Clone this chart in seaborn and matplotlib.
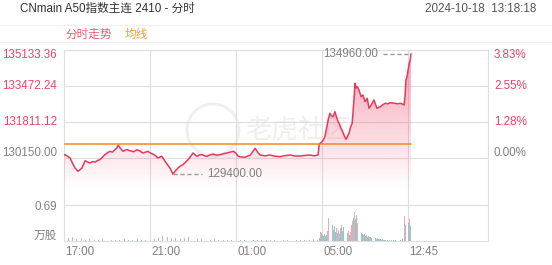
import numpy as np
import matplotlib
matplotlib.use("Agg")
import matplotlib.pyplot as plt
import matplotlib.transforms as mtrans
from matplotlib.patches import Polygon, Ellipse
from matplotlib.lines import Line2D
import seaborn as sns

# ---------------- data ----------------
title = "CNmain A50指数主连 2410 - 分时"
timestamp = "2024-10-18  13:18:18"
legend_labels = ["分时走势", "均线"]

prev_close = 130150.00
price_ticks = [135133.36, 133472.24, 131811.12, 130150.00]
pct_labels = ["3.83%", "2.55%", "1.28%", "0.00%"]
price_floor = 128488.88
vol_tick = 0.69
vol_top = 1.016
vol_unit = "万股"
time_labels = ["17:00", "21:00", "01:00", "05:00", "12:45"]
time_slots = [0, 240, 480, 720, 960]
total_slots = 1183

price_slot = [0, 3, 10, 17, 24, 31, 39, 45, 50, 59, 66, 73, 80, 87, 93, 100, 107, 114,
              121, 128, 135, 142, 147, 151, 158, 165, 175, 184, 194, 204, 212, 220, 227,
              234, 241, 248, 255, 262, 268, 273, 282, 290, 297, 304, 311, 318, 325, 332,
              339, 346, 353, 360, 366, 371, 378, 385, 392, 399, 408, 416, 425, 435, 445,
              455, 463, 472, 479, 486, 495, 505, 512, 519, 526, 533, 540, 547, 561, 575,
              589, 603, 617, 631, 645, 659, 673, 687, 698, 709, 712, 716, 720, 724, 728,
              733, 737, 742, 746, 751, 756, 760, 765, 769, 773, 777, 781, 787, 791, 795,
              800, 804, 809, 812, 815, 818, 823, 829, 834, 840, 846, 851, 857, 865, 873,
              882, 889, 896, 903, 910, 917, 924, 931, 938, 944, 949, 952, 954, 957, 960,
              963, 966, 968]
price_val = [130288, 130302, 130230, 130150, 129900, 129689, 129536, 129620, 129689, 130025,
             129960, 129919, 129990, 129965, 130030, 130072, 130180, 130302, 130390, 130459,
             130420, 130533, 130600, 130736, 130580, 130459, 130540, 130487, 130440, 130533,
             130470, 130381, 130420, 130459, 130380, 130335, 130260, 130150, 130200, 130228,
             129998, 129813, 129650, 129400, 129560, 129689, 129780, 129841, 129960, 130072,
             130220, 130381, 130300, 130228, 130290, 130302, 130250, 130228, 130300, 130335,
             130280, 130302, 130350, 130381, 130420, 130459, 130390, 130228, 130200, 130182,
             130240, 130275, 130420, 130598, 130430, 130288, 130250, 130288, 130230, 130210,
             130260, 130288, 130240, 130242, 130270, 130288, 130250, 130288, 130796, 130850,
             130902, 131000, 131133, 131560, 131903, 132213, 132100, 132056, 132286, 132050,
             131825, 131700, 131520, 131380, 131211, 131012, 131150, 131290, 131600, 131751,
             132826, 133597, 133380, 133440, 133288, 132979, 133057, 132748, 132905, 132443,
             132596, 132826, 132443, 132517, 132600, 132674, 132650, 132702, 132690, 132674,
             132650, 132674, 132640, 132596, 133100, 133749, 133900, 134210, 134500, 134672,
             134960]
avg_price = 130775.0
hi_slot, hi_price, hi_label = 968, 134960.00, "134960.00"
lo_slot, lo_price, lo_label = 304, 129400.00, "129400.00"

vol_night_slot = list(range(0, 709, 12))
vol_night = [0.07, 0.05, 0.08, 0.04, 0.03, 0.02, 0.03, 0.02, 0.02, 0.03, 0.02, 0.02, 0.01, 0.02,
             0.03, 0.02, 0.02, 0.03, 0.02, 0.02, 0.05, 0.04, 0.06, 0.09, 0.07, 0.05, 0.06, 0.04,
             0.05, 0.08, 0.05, 0.03, 0.04, 0.03, 0.02, 0.03, 0.02, 0.02, 0.01, 0.02, 0.01, 0.02,
             0.01, 0.01, 0.02, 0.01, 0.01, 0.01, 0.02, 0.01, 0.01, 0.01, 0.01, 0.02, 0.01, 0.01,
             0.01, 0.02, 0.03, 0.02]
vol_night_dir = "dudduddudu" "uddudduddu" "duddudduud" "dudduddudu" "udduddudud" "duddudduud"
vol_day_slot = list(range(712, 899, 3))
vol_day = [0.05, 0.18, 0.15, 0.12, 0.10, 0.14, 0.09, 0.12, 0.20, 0.45, 1.00, 0.37, 0.30, 0.22,
           0.28, 0.18, 0.24, 0.16, 0.22, 0.14, 0.25, 0.30, 0.20, 0.26, 0.18, 0.22, 0.15, 0.20,
           0.12, 0.18, 0.30, 0.38, 0.45, 0.55, 0.42, 0.50, 0.35, 0.28, 0.20, 0.16, 0.14, 0.12,
           0.13, 0.10, 0.11, 0.08, 0.09, 0.07, 0.08, 0.06, 0.07, 0.05, 0.05, 0.04, 0.05, 0.03,
           0.04, 0.03, 0.02, 0.03, 0.02, 0.02, 0.02]
vol_day_dir = "dudduddduu" "udduddudud" "dudduddudu" "uududdudud" "dudduddudd" "udduddudud" "dud"
vol_tail_slot = [902, 908, 914, 920, 926, 932, 938, 944, 951, 954, 957, 960, 963, 966, 968]
vol_tail = [0.02, 0.01, 0.02, 0.01, 0.01, 0.02, 0.01, 0.03, 0.48, 0.30, 0.22, 0.35, 0.42, 0.28, 0.45]
vol_tail_dir = "ddddddddudududu"

# ---------------- style ----------------
W, H = 552, 265
RED = "#e8385c"
PINK_TXT = "#e8466a"
GRAY_TXT = "#808080"
ORANGE = "#f5891f"
GRID = "#dedede"

sns.set_theme(style="white")
plt.rcParams["font.family"] = ["Liberation Sans", "Noto Sans CJK SC", "DejaVu Sans"]
FS = 8.4

fig = plt.figure(figsize=(W / 100, H / 100), dpi=100)
fig.patch.set_facecolor("white")

L, R = 64, 488


def fx(px):
    return px / W


def fy(py):
    return 1 - py / H


def axes_px(top, bottom, z=0):
    a = fig.add_axes([fx(L), fy(bottom), (R - L) / W, (bottom - top) / H], zorder=z)
    a.set_facecolor("none")
    return a


# header
fig.text(fx(20), fy(8.5), title, fontsize=FS, color="#333333", va="center", ha="left")
fig.text(fx(536), fy(8.5), timestamp, fontsize=FS, color="#555555", va="center", ha="right")
fig.text(fx(65), fy(34.5), legend_labels[0], fontsize=FS, color="#ee5a70", va="center", ha="left")
fig.text(fx(125), fy(34.5), legend_labels[1], fontsize=FS, color="#f0a040", va="center", ha="left")
for yy in (25, 42):
    fig.add_artist(Line2D([0, 1], [fy(yy), fy(yy)], color="#f0f0f0", lw=0.8))

# watermark
fig.add_artist(Ellipse((fx(213), fy(130)), 52 / W, 52 / H, fill=False, ec="#efefef", lw=2, zorder=-1))
fig.text(fx(245), fy(130), "老虎社区", fontsize=19, color="#eeeeee", va="center", ha="left",
         style="italic", zorder=-1)

# frame axes
bg = axes_px(50, 241)
bg.set_xlim(0, total_slots)
bg.set_ylim(0, 1)
bg.set_xticks([])
bg.set_yticks([])
for s in bg.spines.values():
    s.set_color(GRID)
    s.set_linewidth(0.8)
for s in time_slots[1:]:
    bg.axvline(s, color=GRID, lw=0.8, zorder=0)

# price axes
pa = axes_px(50, 194, z=1)
pa.axis("off")
for p in price_ticks[1:]:
    pa.axhline(p, color=GRID, lw=0.8, zorder=0)

ys_px = np.linspace(50, 194, 256)
grad = np.zeros((256, 1, 4))
grad[..., :3] = matplotlib.colors.to_rgb("#f05a76")
grad[:, 0, 3] = np.clip(0.58 * (190 - ys_px) / 140, 0, 1)
im = pa.imshow(grad, extent=[0, total_slots, price_floor, price_ticks[0]], aspect="auto",
               origin="upper", zorder=1)
poly_pts = [(price_slot[0], price_floor)] + list(zip(price_slot, price_val)) + [(price_slot[-1], price_floor)]
poly = Polygon(poly_pts, closed=True, transform=pa.transData, facecolor="none", edgecolor="none")
pa.add_patch(poly)
im.set_clip_path(poly)

sns.lineplot(x=price_slot, y=price_val, ax=pa, color=RED, lw=1.1, zorder=4, legend=False)
sns.lineplot(x=[price_slot[0], price_slot[-1]], y=[avg_price, avg_price], ax=pa, color=ORANGE,
             lw=1.1, zorder=5, legend=False)
pa.set_xlim(0, total_slots)
pa.set_ylim(price_floor, price_ticks[0])

px2slot = total_slots / (R - L)
pa.plot([hi_slot - 28 * px2slot, hi_slot], [hi_price, hi_price], ls=(0, (3, 2)), color="#999999", lw=1, zorder=6)
pa.text(hi_slot - 33 * px2slot, hi_price, hi_label, fontsize=FS, color=GRAY_TXT, ha="right", va="center")
pa.plot([lo_slot, lo_slot + 29 * px2slot], [lo_price, lo_price], ls=(0, (3, 2)), color="#999999", lw=1, zorder=6)
pa.text(lo_slot + 34 * px2slot, lo_price, lo_label, fontsize=FS, color=GRAY_TXT, ha="left", va="center")

# axis labels for price
offsets = [5, 0, 0, -5]
for p, pct, off in zip(price_ticks, pct_labels, offsets):
    col = GRAY_TXT if p == prev_close else PINK_TXT
    tr = mtrans.blended_transform_factory(fig.transFigure, pa.transData) + \
        mtrans.ScaledTranslation(0, -off / 100, fig.dpi_scale_trans)
    fig.text(fx(57), p, f"{p:.2f}", transform=tr, fontsize=FS, color=col, ha="right", va="center")
    fig.text(fx(494), p, pct, transform=tr, fontsize=FS, color=col, ha="left", va="center")

# volume axes
va = axes_px(188, 241, z=2)
va.axis("off")
va.axhline(vol_tick, color=GRID, lw=0.8, zorder=0)
v_slot = vol_night_slot + vol_day_slot + vol_tail_slot
v_val = vol_night + vol_day + vol_tail
v_dir = vol_night_dir + vol_day_dir + vol_tail_dir
cols = ["#f39cb0" if d == "u" else "#7fc8c8" for d in v_dir]
va.bar(v_slot, v_val, width=2.4, color=cols, lw=0, alpha=0.9)
va.set_xlim(0, total_slots)
va.set_ylim(0, vol_top)
trv = mtrans.blended_transform_factory(fig.transFigure, va.transData) + \
    mtrans.ScaledTranslation(0, -2 / 100, fig.dpi_scale_trans)
fig.text(fx(57), vol_tick, f"{vol_tick:.2f}", transform=trv, fontsize=FS, color=GRAY_TXT, ha="right", va="center")
fig.text(fx(57), fy(236), vol_unit, fontsize=FS, color=GRAY_TXT, ha="right", va="center")

# x labels
trx = mtrans.blended_transform_factory(bg.transData, fig.transFigure) + \
    mtrans.ScaledTranslation(1 / 100, 0, fig.dpi_scale_trans)
for s, lab in zip(time_slots, time_labels):
    fig.text(s, fy(252), lab, transform=trx, fontsize=FS, color=GRAY_TXT, ha="left", va="center")

fig.savefig("out.png", dpi=100, facecolor="white")
